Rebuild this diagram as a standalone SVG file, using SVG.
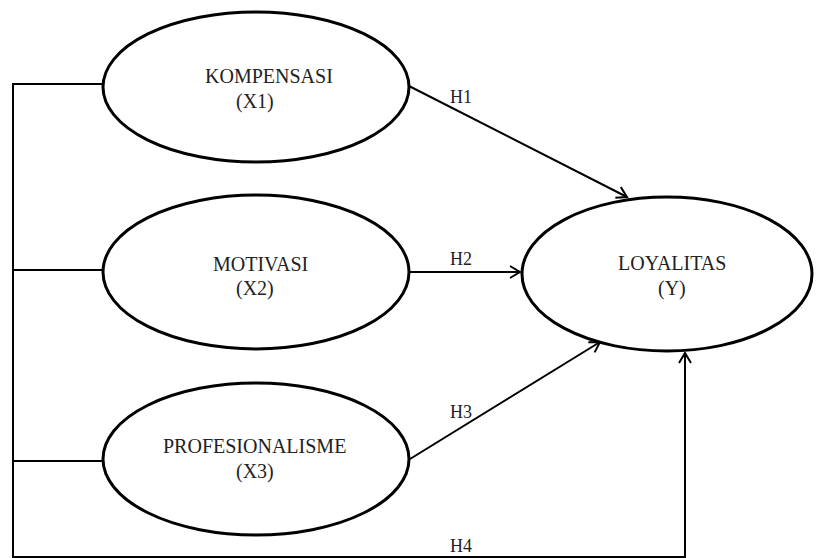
<svg xmlns="http://www.w3.org/2000/svg" width="818" height="558" viewBox="0 0 818 558">
<style>
.node ellipse{fill:#fff;stroke:#000;stroke-width:3}
.lbl{font-family:"Liberation Serif","Times New Roman",serif;font-size:20px;fill:#222}
.h{font-family:"Liberation Serif","Times New Roman",serif;font-size:18px;fill:#222}
.conn{fill:none;stroke:#000;stroke-width:2}
</style>
<defs>
<marker id="arr" markerUnits="userSpaceOnUse" markerWidth="16" markerHeight="16" refX="12" refY="8" orient="auto">
<path d="M2,2 L12,8 L2,14" fill="none" stroke="#000" stroke-width="2"/>
</marker>
</defs>
<g id="connectors">
<polyline class="conn" points="103,84 13,84 13,557 685,557 685,353" marker-end="url(#arr)"/>
<line class="conn" x1="13" y1="270" x2="103" y2="270"/>
<line class="conn" x1="13" y1="461" x2="103" y2="461"/>
<line class="conn" x1="409" y1="86" x2="627" y2="197" marker-end="url(#arr)"/>
<line class="conn" x1="410" y1="272" x2="520" y2="272" marker-end="url(#arr)"/>
<line class="conn" x1="410" y1="459" x2="600" y2="342" marker-end="url(#arr)"/>
<text class="h" x="450" y="103">H1</text>
<text class="h" x="450" y="265">H2</text>
<text class="h" x="450" y="418">H3</text>
<text class="h" x="450" y="552">H4</text>
</g>
<g id="kompensasi" class="node">
<ellipse cx="256" cy="87" rx="153" ry="75"/>
<text class="lbl" x="205" y="83">KOMPENSASI</text>
<text class="lbl" x="236" y="108">(X1)</text>
</g>
<g id="motivasi" class="node">
<ellipse cx="256" cy="272" rx="153" ry="77"/>
<text class="lbl" x="213" y="271">MOTIVASI</text>
<text class="lbl" x="236" y="295">(X2)</text>
</g>
<g id="profesionalisme" class="node">
<ellipse cx="256" cy="459" rx="153" ry="76"/>
<text class="lbl" x="163" y="453">PROFESIONALISME</text>
<text class="lbl" x="236" y="478">(X3)</text>
</g>
<g id="loyalitas" class="node">
<ellipse cx="667" cy="274" rx="145" ry="77"/>
<text class="lbl" x="618" y="270">LOYALITAS</text>
<text class="lbl" x="658" y="295">(Y)</text>
</g>
</svg>
